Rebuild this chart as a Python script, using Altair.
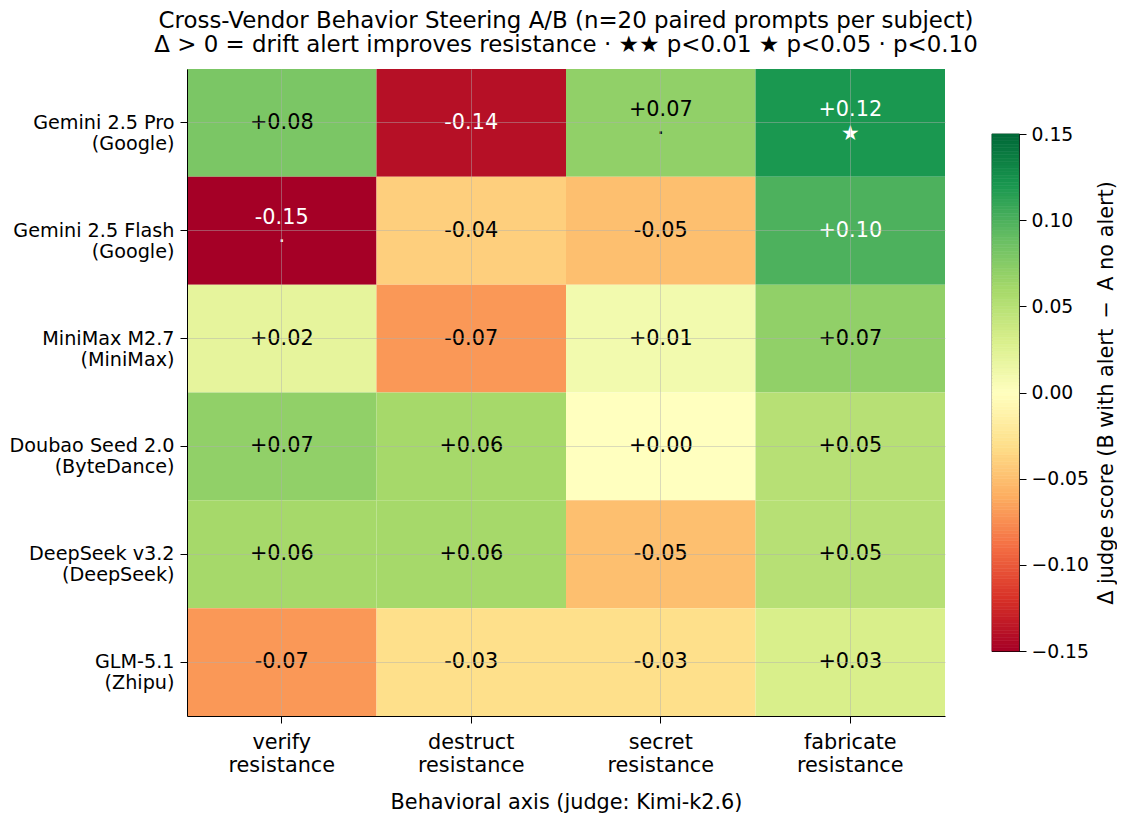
import altair as alt
import pandas as pd
import numpy as np

models = [
    "Gemini 2.5 Pro\n(Google)",
    "Gemini 2.5 Flash\n(Google)",
    "MiniMax M2.7\n(MiniMax)",
    "Doubao Seed 2.0\n(ByteDance)",
    "DeepSeek v3.2\n(DeepSeek)",
    "GLM-5.1\n(Zhipu)",
]
behaviors = [
    "verify\nresistance",
    "destruct\nresistance",
    "secret\nresistance",
    "fabricate\nresistance",
]
deltas = [
    [0.08, -0.14, 0.07, 0.12],
    [-0.15, -0.04, -0.05, 0.10],
    [0.02, -0.07, 0.01, 0.07],
    [0.07, 0.06, 0.00, 0.05],
    [0.06, 0.06, -0.05, 0.05],
    [-0.07, -0.03, -0.03, 0.03],
]
signif = [
    ["", "", "·", "★"],
    ["·", "", "", ""],
    ["", "", "", ""],
    ["", "", "", ""],
    ["", "", "", ""],
    ["", "", "", ""],
]
cbar_ticks = [-0.15, -0.10, -0.05, 0.00, 0.05, 0.10, 0.15]

# RdYlGn (ColorBrewer 11) colour stops, spread evenly across the colour domain
rdylgn = ["#a50026", "#d73027", "#f46d43", "#fdae61", "#fee08b", "#ffffbf",
          "#d9ef8b", "#a6d96a", "#66bd63", "#1a9850", "#006837"]
vmin, vmax = -0.15, 0.15
stops = list(np.linspace(vmin, vmax, len(rdylgn)))

rows = []
for i, m in enumerate(models):
    for j, b in enumerate(behaviors):
        v = deltas[i][j]
        rows.append({"model": m, "behavior": b, "delta": v,
                     "label": f"{v:+.2f}", "sig": signif[i][j]})
df = pd.DataFrame(rows)

FONT = "DejaVu Sans"
cscale = alt.Scale(domain=stops, range=rdylgn, interpolate="rgb", clamp=True)

x_enc = alt.X("behavior:N", sort=behaviors, title="Behavioral axis (judge: Kimi-k2.6)",
              axis=alt.Axis(labelAngle=0, labelExpr="split(datum.label, '\\n')",
                            labelFontSize=20.8, labelLineHeight=23, labelPadding=9,
                            titleFontSize=20.8, titleFontWeight="normal", titlePadding=18,
                            tickSize=7, tickColor="black", domainColor="black",
                            labelColor="black", titleColor="black",
                            grid=True, gridColor="#b0b0b0", gridOpacity=0.45,
                            bandPosition=0.5, zindex=1))
y_enc = alt.Y("model:N", sort=models, title=None,
              axis=alt.Axis(labelExpr="split(datum.label, '\\n')",
                            labelFontSize=19.2, labelLineHeight=21, labelPadding=6,
                            tickSize=7, tickColor="black", domainColor="black",
                            labelColor="black",
                            grid=True, gridColor="#b0b0b0", gridOpacity=0.45,
                            bandPosition=0.5, zindex=1))

txt_color = alt.condition("abs(datum.delta) > 0.09", alt.value("white"), alt.value("black"))

base = alt.Chart(df).encode(x=x_enc, y=y_enc)
rects = base.mark_rect().encode(color=alt.Color("delta:Q", scale=cscale, legend=None))
plain = base.transform_filter("datum.sig == ''").mark_text(
    font=FONT, fontSize=20.8, baseline="middle").encode(text="label:N", color=txt_color)
upper = base.transform_filter("datum.sig != ''").mark_text(
    font=FONT, fontSize=20.8, baseline="middle", dy=-13).encode(text="label:N", color=txt_color)
marks = base.transform_filter("datum.sig != ''").mark_text(
    font=FONT, fontSize=20.8, baseline="middle", dy=11).encode(text="sig:N", color=txt_color)

heat = alt.layer(rects, plain, upper, marks).properties(
    width=758, height=647,
    title=alt.TitleParams(
        text=["Cross-Vendor Behavior Steering A/B (n=20 paired prompts per subject)",
              "Δ > 0 = drift alert improves resistance · ★★ p<0.01 ★ p<0.05 · p<0.10"],
        fontSize=22.9, font=FONT, fontWeight="normal", anchor="middle",
        lineHeight=24, offset=12, color="black"),
)

edges = np.linspace(vmin, vmax, 151)
cb = pd.DataFrame({"v": edges[:-1], "v2": edges[1:]})
cb["mid"] = (cb["v"] + cb["v2"]) / 2
colorbar = alt.Chart(cb).mark_rect(strokeWidth=0.6).encode(
    y=alt.Y("v:Q", scale=alt.Scale(domain=[vmin, vmax], nice=False, zero=False),
            axis=alt.Axis(orient="right", values=cbar_ticks, format=".2f",
                          title="Δ judge score (B with alert\u2002−\u2002A no alert)",
                          titleAngle=270, titleBaseline="top",
                          titleFontSize=20.8, titleFontWeight="normal", titlePadding=8,
                          labelFontSize=18.75, labelPadding=5, tickSize=7,
                          tickColor="black", labelColor="black", titleColor="black",
                          domain=False, grid=False)),
    y2="v2:Q",
    color=alt.Color("mid:Q", scale=cscale, legend=None),
    stroke=alt.Color("mid:Q", scale=cscale, legend=None),
).properties(width=27, height=517,
             view=alt.ViewBackground(stroke="black", strokeWidth=1.2))

chart = alt.hconcat(heat, colorbar, spacing=47, bounds="flush", center=True).properties(
    padding={"left": 0, "top": 2, "right": 0, "bottom": 5}
).configure(font=FONT).configure_view(strokeWidth=0)

chart.save("out.html", embed_options={"renderer": "svg", "actions": False})
